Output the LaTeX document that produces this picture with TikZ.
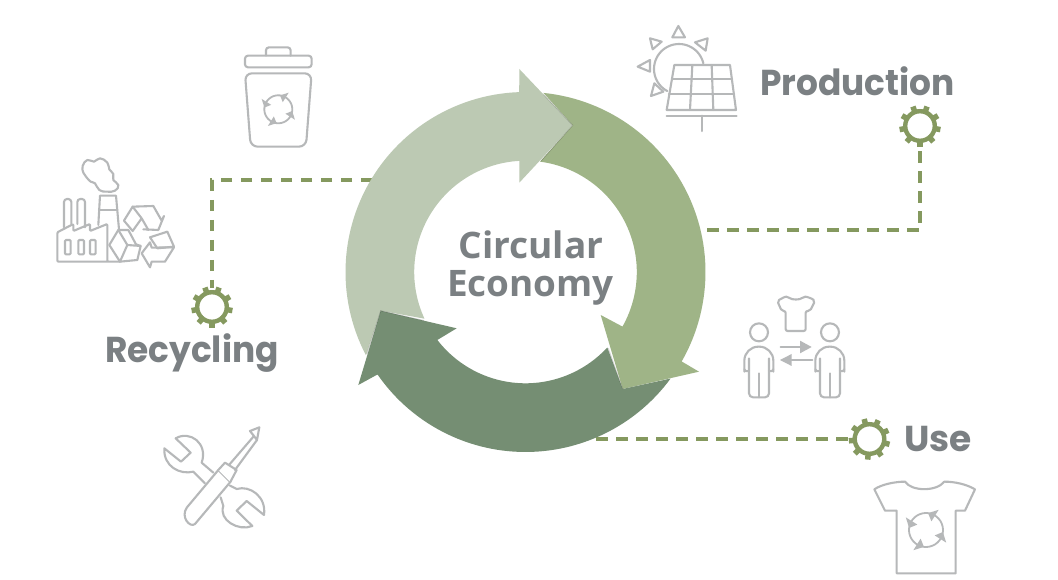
\documentclass[tikz,border=0pt]{standalone}
\usepackage{fontspec}
\usepackage{graphicx}
\setmainfont{Open Sans}
\newfontfamily\labfont{Poppins}
\usetikzlibrary{calc}
\definecolor{ringL}{HTML}{BCC9B3}
\definecolor{ringM}{HTML}{9FB487}
\definecolor{ringD}{HTML}{758E73}
\definecolor{gearcol}{HTML}{85995F}
\definecolor{txtcol}{HTML}{7B8083}
\definecolor{iconcol}{HTML}{B6B8B9}
\tikzset{
  ic/.style={draw=iconcol,line width=2.1pt,line join=round,line cap=round},
  icf/.style={fill=iconcol,draw=none},
  conn/.style={draw=gearcol,line width=3.1pt,dash pattern=on 11.5pt off 8.5pt},
  gearnode/.style={circle,minimum size=38pt,inner sep=0pt,outer sep=0pt},
  lab/.style={anchor=base west,inner sep=0pt,outer sep=0pt,text=txtcol,font=\labfont\bfseries\fontsize{36}{36}\selectfont},
  ctr/.style={anchor=base west,inner sep=0pt,outer sep=0pt,text=txtcol,font=\bfseries\fontsize{36.5}{36.5}\selectfont},
  edgeshade/.style={draw=black,opacity=.16,line width=.9pt}
}
\newcommand\rcy[3]{%
  \foreach \a in {22,112,202,292}{%
    \pgfmathsetmacro\da{\a+6}\pgfmathsetmacro\db{\a+84}
    \draw[ic,line width=1.8pt] plot[domain=\da:\db,samples=9] ({#1+#3*cos(\x)},{#2+#3*sin(\x)});
    \fill[icf] ({#1+#3*cos(\a-15)},{#2+#3*sin(\a-15)})
      -- ({#1+1.4*#3*cos(\a+10)},{#2+1.4*#3*sin(\a+10)})
      -- ({#1+0.6*#3*cos(\a+10)},{#2+0.6*#3*sin(\a+10)}) -- cycle;
  }}
\newcommand\gearicon[3]{%
  \draw[gearcol,line width=4.4pt] (#1,#2) circle[radius=14.8];
  \foreach \a in {0,40,...,320}{%
    \pgfmathsetmacro\ga{\a+#3}
    \draw[gearcol,line width=5.5pt] ({#1+15*cos(\ga)},{#2+15*sin(\ga)}) -- ({#1+20.7*cos(\ga)},{#2+20.7*sin(\ga)});
  }}
\begin{document}
\begin{tikzpicture}[x=1pt,y=-1pt]
\useasboundingbox (0,0) rectangle (1058,580);
\fill[white] (0,0) rectangle (1058,580);

% connectors
\coordinate (prodStart) at (707,230);
\coordinate (useStart) at (596,439);
\coordinate (recStart) at (372,180);
\node[gearnode] (gearP) at (920,126) {};
\node[gearnode] (gearU) at (869,439) {};
\node[gearnode] (gearR) at (212,307) {};
\draw[conn] (prodStart) -| (gearP);
\draw[conn] (useStart) -- (gearU);
\draw[conn] (recStart) -| (gearR);

% ring
\def\cx{525.5}\def\cy{272}
\fill[ringM] plot[domain=275.7:389.8,samples=60] ({\cx+180*cos(\x)},{\cy+180*sin(\x)})
  -- (699,371.7) -- (622.7,389) -- (600.7,315) -- (622.7,326.7)
  -- plot[domain=389.4:277.5,samples=60] ({\cx+111.3*cos(\x)},{\cy+111.3*sin(\x)})
  -- (572.7,125.3) -- cycle;
\fill[ringL] plot[domain=152.4:268,samples=60] ({\cx+180*cos(\x)},{\cy+180*sin(\x)})
  -- (519.3,69) -- (572.7,125.3) -- (519.3,182.7)
  -- plot[domain=266.8:155.2,samples=60] ({\cx+111.3*cos(\x)},{\cy+111.3*sin(\x)})
  -- (380.7,310.7) -- cycle;
\draw[edgeshade] (543.5,94.5) -- (572.7,125.3) -- (541,161);
\fill[ringD] plot[domain=36.3:145.3,samples=60] ({\cx+180*cos(\x)},{\cy+180*sin(\x)})
  -- (358.3,385) -- (380.7,310.7) -- (456.7,328.3) -- (437.3,340)
  -- plot[domain=142.4:42.7,samples=60] ({\cx+111.3*cos(\x)},{\cy+111.3*sin(\x)})
  -- (622.7,389) -- cycle;
\draw[edgeshade] (608.3,348.3) -- (622.7,389);
\draw[edgeshade] (367,354) -- (380.7,310.7) -- (424,320.5);

% gears
\gearicon{920}{126}{10}
\gearicon{869.5}{439}{15}
\gearicon{212}{307}{10}

% texts
\node[ctr] (tCirc) at (458.5,258.3) {\scalebox{1.015}[1]{Circular}};
\node[ctr] (tEcon) at (447,296) {\scalebox{1.01}[1]{Economy}};
\node[lab] (tProd) at (760,96) {\scalebox{.955}[1]{Production}};
\node[lab] (tUse) at (904,451) {\scalebox{1}[1]{Use}};
\node[lab] (tRec) at (105,362.7) {\scalebox{.955}[1]{Recycling}};

% trash can
\begin{scope}[shift={(40,30)},x=.3333pt,y=-.3333pt]
  \draw[ic,rounded corners=3pt] (615,112) rectangle (815,77);
  \draw[ic,rounded corners=3pt] (678,77) -- (678,52) -- (752,52) -- (752,77);
  \draw[ic,rounded corners=7pt] (615,130) -- (815,130) -- (798,350) -- (632,350) -- cycle;
\end{scope}
\rcy{278.3}{109.3}{14}

% factory
\begin{scope}[shift={(50,150)},x=.3333pt,y=-.3333pt]
  \draw[ic,rounded corners=1pt] (172,335) -- (22,335) -- (22,247) -- (70,222) -- (70,243) -- (120,222) -- (120,243) -- (172,222) -- (172,335) -- (210,335);
  \draw[ic,rounded corners=3pt] (42,232) -- (42,147) -- (64,147) -- (64,222);
  \draw[ic,rounded corners=3pt] (82,222) -- (82,147) -- (105,147) -- (105,232);
  \draw[ic] (145,225) -- (150,137) -- (198,137) -- (207,238);
  \draw[ic] (147,180) -- (202,180);
  \draw[ic,rounded corners=1pt] (45,270) rectangle (62,313);
  \draw[ic,rounded corners=1pt] (85,270) rectangle (102,313);
  \draw[ic,rounded corners=1pt] (120,270) rectangle (137,313);
  \draw[ic] plot[smooth cycle,tension=.8] coordinates {(100,68)(98,48)(112,30)(132,35)(150,25)(172,38)(178,58)(190,72)(190,90)(205,105)(195,122)(170,125)(148,120)(135,100)(122,95)(108,80)};
  % recycling triangle
  \draw[ic] (275,205) -- (248,170) -- (222,212) -- (248,243) -- (275,205) -- (295,240);
  \draw[ic] (248,170) -- (310,168) -- (335,212) -- (342,198) -- (325,240) -- (280,238);
  \draw[ic] (178,285) -- (205,240) -- (235,240) -- (258,283) -- (272,288) -- (262,330) -- (210,335) -- cycle;
  \draw[ic] (205,240) -- (232,285) -- (272,288);
  \draw[ic] (232,285) -- (210,335);
  \draw[ic] (322,295) -- (300,262) -- (352,245) -- (372,290) -- (322,295);
  \draw[ic] (300,277) -- (305,293) -- (372,292) -- (345,335) -- (305,335) -- (300,352) -- (275,310) -- (300,277);
\end{scope}

% solar panel
\begin{scope}[shift={(635,20)},x=.3333pt,y=-.3333pt]
  \draw[ic] plot[domain=118:347,samples=40] ({132+75*cos(\x)},{147+75*sin(\x)});
  \fill[white] (118,135) -- (285,135) -- (303,270) -- (95,270) -- cycle;
  \draw[ic] (118,135) -- (285,135) -- (303,270) -- (95,270) -- cycle;
  \draw[ic] (112,178) -- (291,178);
  \draw[ic] (102,222) -- (297,222);
  \draw[ic] (172,135) -- (165,270);
  \draw[ic] (230,135) -- (235,270);
  \draw[ic] (95,287) -- (305,287);
  \draw[ic] (200,287) -- (200,333);
  \draw[ic] (130,18) -- (112,52) -- (150,52) -- cycle;
  \draw[ic] (45,55) -- (80,65) -- (53,88) -- cycle;
  \draw[ic] (218,55) -- (180,67) -- (212,92) -- cycle;
  \draw[ic] (8,140) -- (45,120) -- (45,155) -- cycle;
  \draw[ic] (48,228) -- (58,190) -- (85,215) -- cycle;
\end{scope}

% tools
\begin{scope}[shift={(155,420)},x=.3333pt,y=-.3333pt]
  \draw[ic] (150,190) -- (115,155) .. controls (75,165) and (25,140) .. (28,85) -- (78,125) -- (107,98) -- (62,55)
     .. controls (105,30) and (160,70) .. (140,128) -- (175,158);
  \draw[ic] (225,197) -- (245,207) .. controls (285,195) and (335,230) .. (327,285) -- (275,243) -- (245,272) -- (292,318)
     .. controls (250,335) and (190,300) .. (205,258) -- (197,232);
  \draw[ic,fill=white] (96,262) -- (190,150) -- (226,186) -- (120,312) .. controls (105,325) and (75,290) .. (96,262) -- cycle;
  \draw[ic,fill=white] (190,150) -- (210,128) -- (245,150) -- (226,186);
  \draw[ic] (222,135) -- (297,48) -- (285,33) -- (313,22) -- (306,60) -- (297,48);
  \draw[ic] (240,150) -- (306,60);
\end{scope}

% people and shirt
\begin{scope}[shift={(735,290)},x=.3333pt,y=-.3333pt]
  \draw[ic,rounded corners=2pt] (127,33) .. controls (140,25) and (150,20) .. (160,20) .. controls (170,30) and (195,30) .. (205,20) .. controls (215,20) and (230,25) .. (240,33) -- (225,63) -- (212,63) -- (212,123) -- (152,123) -- (152,63) -- (140,63) -- cycle;
  \foreach \dx in {0,213}{
    \begin{scope}[shift={(\dx,0)}]
    \draw[ic] (72,127) circle[radius=27];
    \draw[ic,rounded corners=14pt] (28,245) -- (28,170) -- (115,170) -- (115,245);
    \draw[ic] (28,238) .. controls (28,243) and (36,246) .. (42,243);
    \draw[ic] (115,238) .. controls (115,243) and (107,246) .. (102,243);
    \draw[ic,rounded corners=4pt] (42,205) -- (42,322) -- (102,322) -- (102,205);
    \draw[ic] (72,250) -- (72,322);
    \end{scope}
  }
  \draw[ic,line width=2.2pt] (137,170) -- (197,170);
  \fill[icf] (195,152) -- (230,171) -- (195,190) -- cycle;
  \draw[ic,line width=2.2pt] (232,210) -- (170,210);
  \fill[icf] (135,210) -- (170,192) -- (170,228) -- cycle;
\end{scope}

% big shirt
\begin{scope}[shift={(865,475)},x=.3333pt,y=-.3333pt]
  \draw[ic] (28,43) .. controls (50,28) and (90,20) .. (120,20) .. controls (140,50) and (215,50) .. (238,20) .. controls (270,20) and (305,28) .. (330,43) -- (300,107) -- (272,107) -- (272,295) -- (95,295) -- (95,107) -- (60,107) -- cycle;
\end{scope}
\rcy{926}{530}{17}
\end{tikzpicture}
\end{document}
